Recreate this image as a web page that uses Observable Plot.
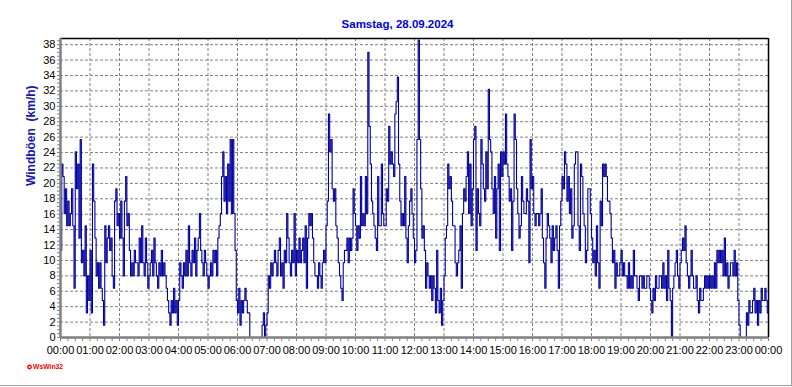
<!DOCTYPE html>
<html><head><meta charset="utf-8">
<script src="https://cdn.jsdelivr.net/npm/d3@7"></script>
<script src="https://cdn.jsdelivr.net/npm/@observablehq/plot@0.6"></script>
<style>
html,body{margin:0;padding:0;background:#fff;}
#wrap{position:relative;width:792px;height:387px;overflow:hidden;}
#edge{position:absolute;left:0;top:0;width:791px;height:385px;border-right:1px solid #a0a0a0;border-bottom:1px solid #a0a0a0;pointer-events:none;}
svg{display:block;}
</style></head><body><div id="wrap"><div id="edge"></div></div>
<script>
const title = "Samstag, 28.09.2024";
const yLabel = "Windböen  (km/h)";
const brand = "WsWin32";
const stepMinutes = 2.5;
const yTicks = [0,2,4,6,8,10,12,14,16,18,20,22,24,26,28,30,32,34,36,38];
const xTicks = [0,60,120,180,240,300,360,420,480,540,600,660,720,780,840,900,960,1020,1080,1140,1200,1260,1320,1380,1440];
const xTickLabels = ["00:00","01:00","02:00","03:00","04:00","05:00","06:00","07:00","08:00","09:00","10:00","11:00","12:00","13:00","14:00","15:00","16:00","17:00","18:00","19:00","20:00","21:00","22:00","23:00","00:00"];
// Windböen in km/h, one value every 2.5 minutes, one row per hour
const gusts = [
11.3,22.5,20.9,16.1,19.3,14.5,17.7,14.5,16.1,19.3,14.5,6.4,24.1,19.3,22.5,12.9,25.7,9.7,11.3,8.0,14.5,3.2,8.0,4.8,
11.3,3.2,22.5,17.7,12.9,8.0,9.7,6.4,9.7,6.4,4.8,1.6,14.5,9.7,12.9,14.5,11.3,12.9,8.0,6.4,17.7,19.3,14.5,16.1,
12.9,17.7,12.9,8.0,17.7,20.9,14.5,16.1,11.3,8.0,9.7,8.0,11.3,9.7,9.7,8.0,12.9,9.7,14.5,9.7,8.0,12.9,9.7,6.4,
8.0,9.7,11.3,8.0,12.9,9.7,8.0,6.4,9.7,8.0,11.3,8.0,9.7,8.0,6.4,4.8,3.2,1.6,4.8,3.2,6.4,3.2,4.8,1.6,
4.8,9.7,8.0,6.4,9.7,8.0,11.3,8.0,14.5,9.7,8.0,11.3,9.7,12.9,8.0,11.3,12.9,16.1,11.3,9.7,8.0,11.3,9.7,8.0,
6.4,8.0,9.7,8.0,11.3,9.7,11.3,8.0,12.9,14.5,16.1,20.9,24.1,17.7,20.9,16.1,22.5,17.7,25.7,16.1,25.7,16.1,11.3,4.8,
3.2,6.4,1.6,4.8,3.2,4.8,6.4,4.8,3.2,3.2,0,0,0,0,0,0,0,0,0,0,1.6,3.2,0,1.6,
3.2,8.0,6.4,9.7,8.0,9.7,11.3,9.7,8.0,11.3,12.9,8.0,9.7,6.4,11.3,9.7,16.1,12.9,9.7,8.0,11.3,9.7,16.1,8.0,
11.3,9.7,12.9,9.7,11.3,12.9,9.7,14.5,6.4,12.9,16.1,14.5,16.1,12.9,9.7,8.0,8.0,6.4,9.7,8.0,6.4,9.7,11.3,9.7,
14.5,17.7,29.0,24.1,25.7,19.3,17.7,19.3,14.5,12.9,9.7,8.0,6.4,4.8,9.7,11.3,11.3,12.9,9.7,12.9,11.3,12.9,19.3,16.1,
14.5,11.3,14.5,12.9,20.9,14.5,16.1,14.5,20.9,16.1,37.0,27.4,22.5,17.7,16.1,14.5,12.9,11.3,20.9,14.5,14.5,22.5,16.1,14.5,
14.5,19.3,17.7,27.4,22.5,24.1,22.5,20.9,29.0,30.6,33.8,22.5,17.7,14.5,16.1,14.5,20.9,12.9,9.7,14.5,17.7,19.3,16.1,12.9,
9.7,11.3,25.7,38.6,25.7,19.3,12.9,14.5,11.3,6.4,9.7,8.0,6.4,8.0,4.8,8.0,6.4,3.2,11.3,4.8,3.2,6.4,1.6,4.8,
8.0,12.9,14.5,22.5,19.3,20.9,17.7,14.5,14.5,9.7,8.0,9.7,11.3,14.5,6.4,16.1,19.3,17.7,20.9,24.1,16.1,22.5,14.5,19.3,
25.7,27.4,11.3,19.3,16.1,14.5,25.7,22.5,19.3,17.7,24.1,19.3,32.2,25.7,24.1,19.3,16.1,20.9,12.9,19.3,22.5,11.3,24.1,20.9,
24.1,22.5,29.0,22.5,20.9,17.7,19.3,11.3,17.7,29.0,25.7,19.3,16.1,12.9,14.5,20.9,17.7,16.1,16.1,19.3,17.7,9.7,25.7,19.3,
20.9,16.1,14.5,16.1,16.1,14.5,16.1,19.3,12.9,9.7,6.4,12.9,16.1,14.5,12.9,9.7,14.5,11.3,12.9,14.5,11.3,6.4,14.5,17.7,
20.9,19.3,24.1,22.5,17.7,20.9,16.1,19.3,12.9,14.5,22.5,24.1,24.1,14.5,11.3,22.5,20.9,16.1,14.5,9.7,11.3,19.3,19.3,16.1,
12.9,9.7,11.3,8.0,14.5,9.7,6.4,17.7,14.5,22.5,20.9,22.5,20.9,17.7,17.7,16.1,12.9,9.7,11.3,6.4,9.7,8.0,8.0,9.7,
11.3,8.0,9.7,8.0,8.0,6.4,9.7,6.4,8.0,6.4,11.3,8.0,8.0,6.4,4.8,8.0,8.0,6.4,8.0,6.4,6.4,8.0,8.0,6.4,
4.8,3.2,6.4,4.8,8.0,6.4,6.4,8.0,8.0,6.4,9.7,6.4,8.0,4.8,11.3,6.4,4.8,0,6.4,8.0,9.7,11.3,8.0,6.4,
9.7,11.3,12.9,11.3,14.5,9.7,8.0,6.4,8.0,11.3,8.0,6.4,6.4,8.0,4.8,3.2,6.4,4.8,4.8,6.4,8.0,6.4,8.0,6.4,
8.0,6.4,8.0,6.4,9.7,6.4,11.3,9.7,11.3,9.7,11.3,8.0,12.9,8.0,9.7,6.4,8.0,9.7,9.7,8.0,11.3,8.0,9.7,4.8,
1.6,0,0,0,0,0,3.2,1.6,4.8,3.2,3.2,4.8,6.4,3.2,4.8,1.6,4.8,3.2,6.4,4.8,4.8,6.4,4.8,3.2
];

const yMax = 38.8;
const rows = gusts.map((v, i) => ({t: i * stepMinutes, v}));
rows.push({t: 1440, v: gusts[gusts.length - 1]});
const grey = "#808080";
const font = "Liberation Sans, Arial, sans-serif";

const chart = Plot.plot({
  width: 792,
  height: 387,
  marginLeft: 60,
  marginRight: 24,
  marginTop: 38,
  marginBottom: 50,
  style: {fontFamily: font, fontSize: "11px", color: "black", background: "white", overflow: "visible"},
  x: {domain: [0, 1440], label: null},
  y: {domain: [0, yMax], label: null},
  marks: [
    Plot.gridY(yTicks.filter(d => d > 0), {stroke: grey, strokeOpacity: 1, strokeDasharray: "3,2"}),
    Plot.gridX(xTicks.filter(d => d > 0 && d < 1440), {stroke: grey, strokeOpacity: 1, strokeDasharray: "3,2"}),
    Plot.ruleY([yMax], {stroke: "black", strokeWidth: 1.5}),
    Plot.ruleX([1440], {stroke: "black", strokeWidth: 1.5}),
    Plot.line(rows, {x: "t", y: "v", curve: "step-after", stroke: "#0000a0", strokeWidth: 1.1}),
    Plot.axisY(d3.range(0, yMax, 0.5), {tickSize: 3, tickFormat: () => "", stroke: grey}),
    Plot.axisY(yTicks, {tickSize: 0, tickPadding: 5, fontSize: 11, fill: "black"}),
    Plot.axisX(d3.range(0, 1441, 15), {tickSize: 4, tickFormat: () => "", stroke: grey}),
    Plot.axisX(xTicks, {tickSize: 0, tickPadding: 9, fontSize: 11, fill: "black", tickFormat: (d, i) => xTickLabels[i]}),
    Plot.ruleX([0], {stroke: grey, strokeWidth: 2.5}),
    Plot.ruleY([0], {stroke: grey, strokeWidth: 2.5}),
    Plot.text([title], {frameAnchor: "top", dx: -17, dy: -14.5, lineAnchor: "middle", fontWeight: "bold", fontSize: 11.5, fill: "#0000ee"}),
    Plot.text([yLabel], {frameAnchor: "left", dx: -29, dy: -2, rotate: -90, lineAnchor: "middle", fontWeight: "bold", fontSize: 12, fill: "#1515c0"}),
    Plot.dot([brand], {frameAnchor: "bottom-left", dx: -31, dy: 29.5, r: 1.7, stroke: "red", strokeWidth: 1.4, fill: "none"}),
    Plot.text([brand], {frameAnchor: "bottom-left", dx: -27.5, dy: 29.5, textAnchor: "start", lineAnchor: "middle", fontWeight: "bold", fontSize: 6.8, fill: "red"})
  ]
});
chart.querySelectorAll("text").forEach(t => t.setAttribute("xml:space", "preserve"));
document.getElementById("wrap").prepend(chart);
</script>
</body></html>
